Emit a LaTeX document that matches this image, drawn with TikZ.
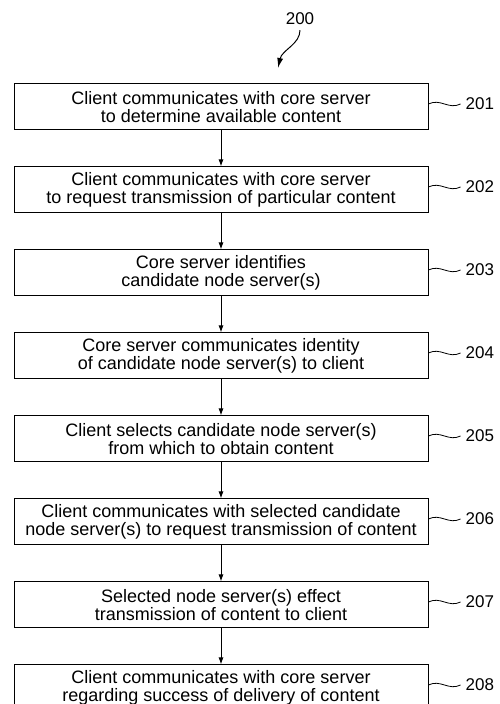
\documentclass[tikz,border=0pt]{standalone}
\usepackage{fontspec}
\setmainfont{Liberation Sans}
\usetikzlibrary{arrows.meta,positioning}

\begin{document}
\begin{tikzpicture}[x=1pt, y=1pt,
  stepbox/.style={draw, rectangle, line width=1pt,
                  minimum width=414pt, minimum height=46pt,
                  font=\fontsize{18}{17.5}\selectfont,
                  align=center, inner sep=2pt},
  tag/.style={font=\fontsize{17}{17}\selectfont, inner sep=0pt, anchor=west},
  arr/.style={-{Latex[length=7pt,width=5pt]}, line width=1pt},
  wave/.style={line width=0.8pt}
]
\useasboundingbox (0,0) rectangle (499,704);
\node[stepbox] (S1) at (221,597) {Client communicates with core server\\to determine available content};
\node[stepbox, below=36pt of S1] (S2) {Client communicates with core server\\to request transmission of particular content};
\node[stepbox, below=36pt of S2] (S3) {Core server identifies\\candidate node server(s)};
\node[stepbox, below=36pt of S3] (S4) {Core server communicates identity\\of candidate node server(s) to client};
\node[stepbox, below=36pt of S4] (S5) {Client selects candidate node server(s)\\from which to obtain content};
\node[stepbox, below=36pt of S5] (S6) {Client communicates with selected candidate\\node server(s) to request transmission of content};
\node[stepbox, below=36pt of S6] (S7) {Selected node server(s) effect\\transmission of content to client};
\node[stepbox, below=36pt of S7] (S8) {Client communicates with core server\\regarding success of delivery of content};
% reference numerals
\foreach \i/\num in {1/201,2/202,3/203,4/204,5/205,6/206,7/207,8/208}{
  \node[tag] (T\i) at ([xshift=37pt, yshift=3pt]S\i.east) {\num};
  \draw[wave] ([yshift=3pt]S\i.east) .. controls +(12,6) and +(-12,-6) .. ([xshift=-5pt]T\i.west);
}
\foreach \a/\b in {S1/S2,S2/S3,S3/S4,S4/S5,S5/S6,S6/S7,S7/S8}
  \draw[arr] (\a) -- (\b);
% figure number
\node[font=\fontsize{17}{17}\selectfont, inner sep=0pt] (F) at (300,685) {200};
\coordinate (Fp) at (278,636);
\draw[-{Latex[length=10pt,width=6pt]}, line width=1pt] ([yshift=-5pt]F.south) .. controls +(0,-14) and +(4,18) .. (Fp);
\end{tikzpicture}
\end{document}
